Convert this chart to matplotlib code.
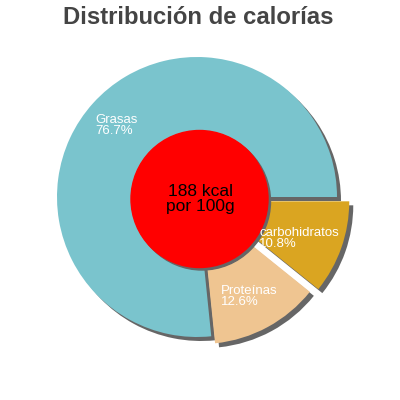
import matplotlib

matplotlib.use("Agg")
import matplotlib.pyplot as plt
from matplotlib.patches import Circle

plt.rcParams["font.family"] = ["Liberation Sans", "DejaVu Sans"]

# calorie split
labels = ["Grasas", "Proteínas", "carbohidratos"]
shares = [76.7, 12.6, 10.8]
colors = ["#7ac4cd", "#efc591", "#daa521"]
label_pos = [(95, 286), (221, 115), (259, 173)]
kcal = 188

fig = plt.figure(figsize=(4, 4), dpi=100)
ax = fig.add_axes([0, 0, 1, 1])

cx, cy, r = 197, 203, 140
explode = [0, 8, 13]  # pie offsets are in data units (pixels here)
shadow = (4, -4)

# shadow pass first, then the real wedges on top
ax.pie(shares, colors=["#666666"] * 3, explode=explode, startangle=0,
       counterclock=True, radius=r, center=(cx + shadow[0], cy + shadow[1]),
       frame=True)
ax.pie(shares, colors=colors, explode=explode, startangle=0,
       counterclock=True, radius=r, center=(cx, cy), frame=True)
ax.set_xlim(0, 400)
ax.set_ylim(0, 400)
ax.set_aspect("equal")
ax.axis("off")

for name, val, (x, y) in zip(labels, shares, label_pos):
    ax.text(x, y, f"{name}\n{val}%", color="white", fontsize=9.5,
            ha="left", va="top", linespacing=0.9, zorder=8)

ax.add_patch(Circle((199.5 + 2.5, 201 - 2.5), 68.5, color="#666666", zorder=5))
ax.add_patch(Circle((199.5, 201), 68.5, color="#ff0000", zorder=6))
ax.text(200, 201, f"{kcal} kcal\npor 100g", color="black", fontsize=12.5,
        ha="center", va="center", linespacing=1.0, zorder=7)

fig.text(0.495, 0.957, "Distribución de calorías", color="#444444",
         fontsize=17.2, fontweight="bold", ha="center", va="center")

fig.savefig("out.png", dpi=100)
